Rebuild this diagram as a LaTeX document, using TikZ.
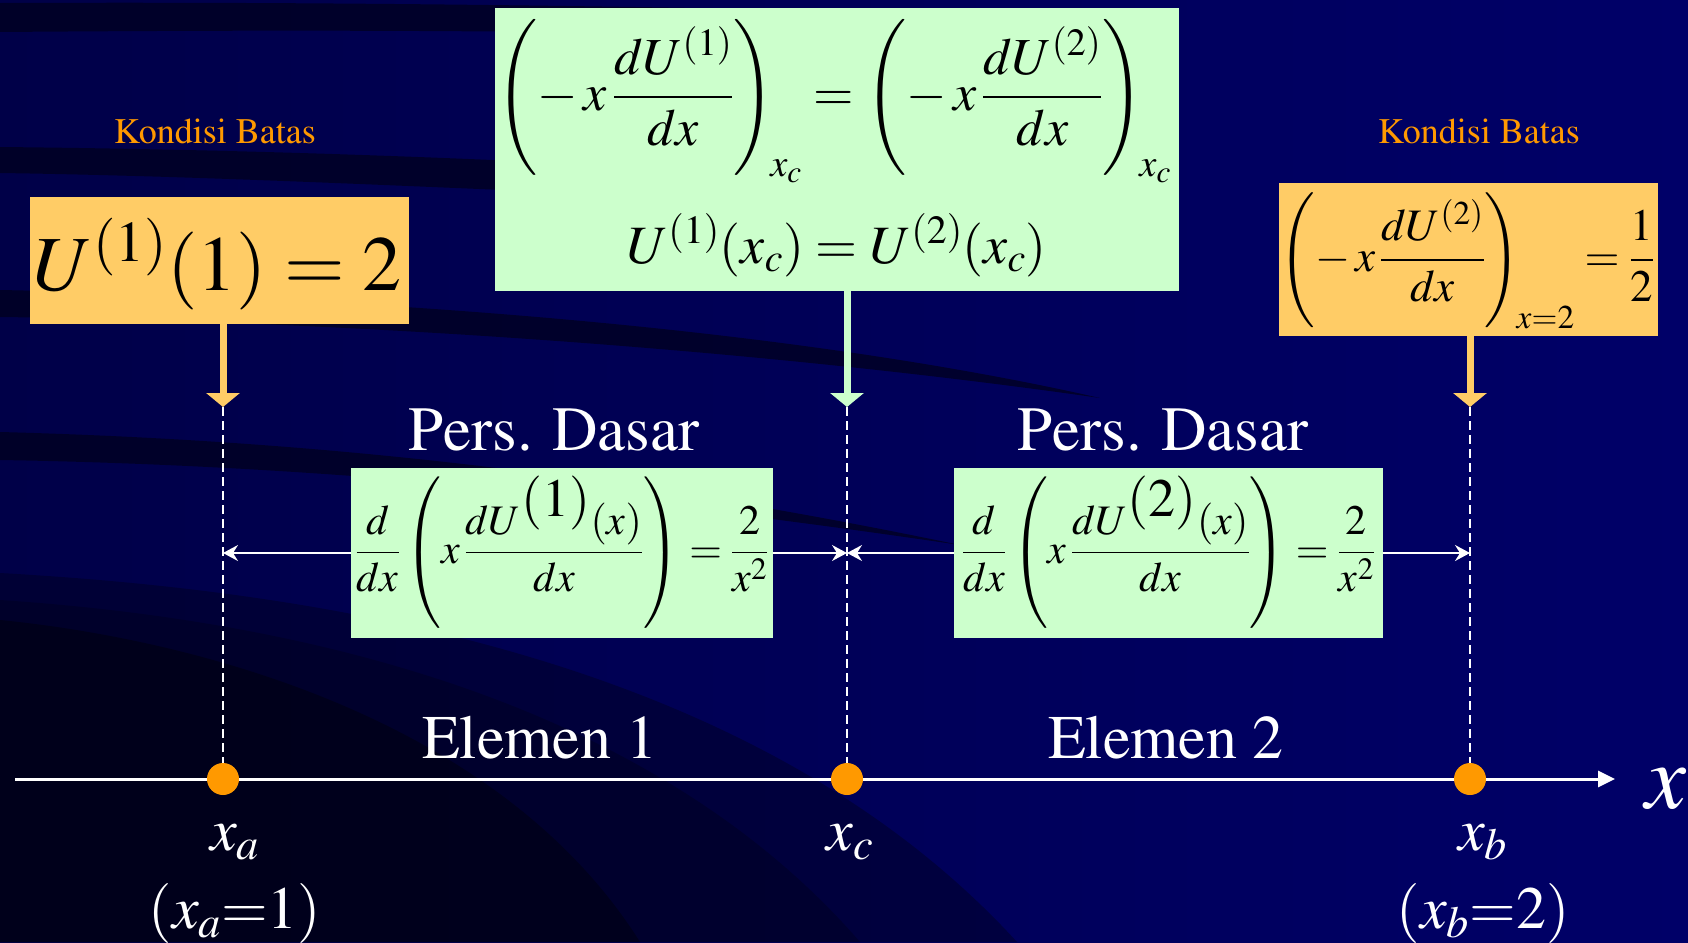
\documentclass[tikz,border=0pt]{standalone}
\usepackage[T1]{fontenc}
\usepackage{mathptmx}
\usetikzlibrary{arrows.meta}
\definecolor{bgl}{RGB}{0,0,72}
\definecolor{bgr}{RGB}{0,0,104}
\definecolor{bgdark}{RGB}{0,0,30}
\definecolor{boxorange}{RGB}{255,204,102}
\definecolor{boxgreen}{RGB}{204,255,204}
\definecolor{dotorange}{RGB}{255,153,0}
\definecolor{kondisi}{RGB}{255,153,0}
\newcommand\mystrut[2]{\vrule height #1 depth #2 width 0pt}
\begin{document}
\begin{tikzpicture}[x=1pt,y=-1pt,
  obox/.style={fill=boxorange, draw=none, inner sep=0pt},
  gbox/.style={fill=boxgreen, draw=none, inner sep=0pt},
  band/.style={fill=bgdark, opacity=0.75},
  vdash/.style={white, line width=2pt, dash pattern=on 9pt off 5pt},
  span/.style={white, line width=1.5pt, {Stealth[length=15pt,width=16pt,inset=5pt]}-{Stealth[length=15pt,width=16pt,inset=5pt]}},
  bigarrow/.style={line width=7pt, -{Triangle[length=14pt,width=33pt]}},
  axisline/.style={white, line width=3pt, -{Triangle[length=17pt,width=16pt]}},
  dot/.style={circle, fill=dotorange, minimum size=32pt, inner sep=0pt},
  lbl/.style={white, font=\fontsize{63}{70}\selectfont, inner sep=0pt, anchor=base},
  kond/.style={text=kondisi, font=\fontsize{36}{40}\selectfont, inner sep=0pt, anchor=base},
  mth/.style={inner sep=0pt, anchor=base},
]
\useasboundingbox (0,0) rectangle (1688,942);
% background
\shade[left color=bgl, right color=bgr] (0,0) rectangle (1688,942);
\fill[band] (0,3) .. controls (250,2) and (450,4) .. (700,8) -- (700,34) .. controls (450,30) and (250,30) .. (0,32) -- cycle;
\fill[band] (0,147) .. controls (200,149) and (400,155) .. (600,165) -- (600,194) .. controls (400,186) and (200,176) .. (0,173) -- cycle;
\fill[band] (0,290) .. controls (400,298) and (800,330) .. (1100,398) .. controls (800,355) and (400,322) .. (0,317) -- cycle;
\fill[band] (0,432) .. controls (300,440) and (600,470) .. (960,545) .. controls (600,492) and (300,465) .. (0,460) -- cycle;
\fill[bgdark, opacity=0.45] (0,573) .. controls (300,590) and (750,650) .. (1017,942) -- (0,942) -- cycle;
\fill[bgdark, opacity=0.45] (0,600) .. controls (300,620) and (650,700) .. (860,942) -- (0,942) -- cycle;
\fill[black, opacity=0.35] (0,620) .. controls (200,640) and (500,720) .. (640,942) -- (0,942) -- cycle;

% points on axis
\coordinate (axs) at (15,779);
\coordinate (axe) at (1615,779);
\coordinate (ta) at (223,407);
\coordinate (tc) at (847,407);
\coordinate (tb) at (1470,407);
\coordinate (ma) at (223,553);
\coordinate (mc) at (847,553);
\coordinate (mb) at (1470,553);

% dashed verticals
\draw[vdash] (ta) -- (223,779);
\draw[vdash] (tc) -- (847,779);
\draw[vdash] (tb) -- (1470,779);

% spans
\draw[span] (ma) -- (mc);
\draw[span] (mc) -- (mb);

% boxes
\node[obox, minimum width=379pt, minimum height=127pt] (bl) at (219.5,260.5) {};
\node[gbox, minimum width=684pt, minimum height=283pt] (bt) at (837,149.5) {};
\node[obox, minimum width=379pt, minimum height=153pt] (br) at (1468.5,259.5) {};
\node[gbox, minimum width=422pt, minimum height=170pt] (bp1) at (562,553) {};
\node[gbox, minimum width=429pt, minimum height=170pt] (bp2) at (1168.5,553) {};

% thick arrows
\draw[bigarrow, boxorange] (bl.south -| ta) -- (ta);
\draw[bigarrow, boxgreen] (bt.south -| tc) -- (tc);
\draw[bigarrow, boxorange] (br.south -| tb) -- (tb);

% formulas
\node[mth] (f1) at (217.5,290) {\fontsize{78}{86}\selectfont$U^{(1)}(1)=2$};
\node[mth] (g1) at (834,110) {\fontsize{52}{60}\selectfont$\displaystyle \left(\mystrut{77pt}{53pt}-\,x\,\frac{dU^{(1)}}{dx}\right)_{\!x_c}=\left(\mystrut{77pt}{53pt}-\,x\,\frac{dU^{(2)}}{dx}\right)_{\!x_c}$};
\node[mth] (g2) at (837,263) {\fontsize{54}{60}\selectfont$U^{(1)}(x_c)=U^{(2)}(x_c)$};
\node[mth] (r1) at (1467,271) {\fontsize{45}{52}\selectfont$\displaystyle \left(\mystrut{73pt}{51pt}-\,x\,\frac{dU^{(2)}}{dx}\right)_{\!x{=}2}=\frac{1}{2}$};
\node[mth] (p1) at (562,563) {\fontsize{42}{48}\selectfont$\displaystyle \frac{d}{dx}\left(\mystrut{76pt}{60pt}x\,\frac{dU^{\mbox{\fontsize{54}{54}\selectfont$(1)$}}(x)}{dx}\right)=\frac{2}{x^{2}}$};
\node[mth] (p2) at (1168.5,563) {\fontsize{42}{48}\selectfont$\displaystyle \frac{d}{dx}\left(\mystrut{76pt}{60pt}x\,\frac{dU^{\mbox{\fontsize{54}{54}\selectfont$(2)$}}(x)}{dx}\right)=\frac{2}{x^{2}}$};

% axis and dots
\draw[axisline] (axs) -- (axe);
\node[dot] (a) at (223,779) {};
\node[dot] (c) at (847,779) {};
\node[dot] (b) at (1470,779) {};

% labels
\node[kond] (k1) at (215,143) {Kondisi Batas};
\node[kond] (k2) at (1479,143) {Kondisi Batas};
\node[lbl] (pd1) at (554,450) {Pers. Dasar};
\node[lbl] (pd2) at (1163,450) {Pers. Dasar};
\node[lbl, font=\fontsize{62}{70}\selectfont] (e1) at (540,758) {Elemen 1};
\node[lbl, font=\fontsize{62}{70}\selectfont] (e2) at (1166,758) {Elemen 2};
\node[mth, white] (xa) at (235,850) {\fontsize{60}{66}\selectfont$x_a$};
\node[mth, white] (xa2) at (235,928) {\fontsize{60}{66}\selectfont$(x_a{=}1)$};
\node[mth, white] (xc) at (850,850) {\fontsize{60}{66}\selectfont$x_c$};
\node[mth, white] (xb) at (1483,850) {\fontsize{60}{66}\selectfont$x_b$};
\node[mth, white] (xb2) at (1483,928) {\fontsize{60}{66}\selectfont$(x_b{=}2)$};
\node[inner sep=0pt, anchor=base west, white] (xl) at (1645,808) {\fontsize{92}{100}\selectfont$x$};
\end{tikzpicture}
\end{document}
